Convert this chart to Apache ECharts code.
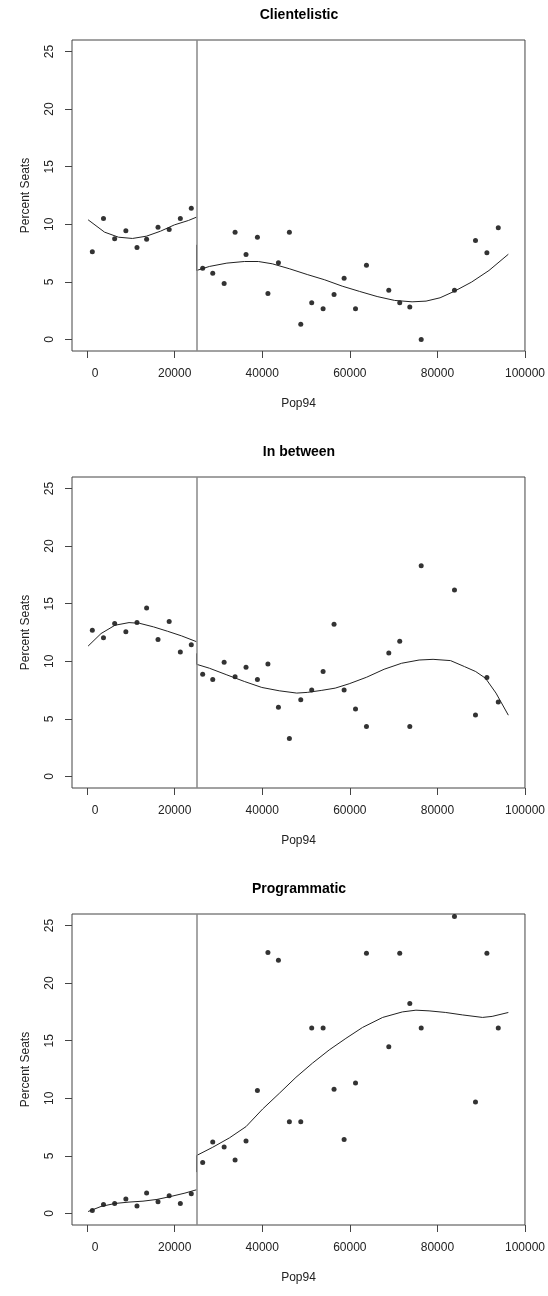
<!DOCTYPE html>
<html>
<head>
<meta charset="utf-8">
<script src="https://cdn.jsdelivr.net/npm/echarts@6/dist/echarts.min.js"></script>
<style>
html,body{margin:0;padding:0;background:#fff;}
#chart{width:548px;height:1296px;}
</style>
</head>
<body>
<div id="chart"></div>
<script>
// ---- data ----
const cutoff = 25000;
const xTicks = [0, 20000, 40000, 60000, 80000, 100000];
const yTicks = [0, 5, 10, 15, 20, 25];
const titles = ['Clientelistic', 'In between', 'Programmatic'];
const xName = 'Pop94';
const yName = 'Percent Seats';

const popLeft = [1200, 3750, 6300, 8860, 11400, 13600, 16200, 18750, 21300, 23800];
const popRight = [26400, 28700, 31300, 33800, 36300, 38900, 41300, 43700, 46200, 48800, 51300, 53900,
  56400, 58700, 61300, 63800, 68900, 71400, 73700, 76300, 83900, 88700, 91300, 93900];

const clientLeft = [7.61, 10.50, 8.74, 9.43, 7.99, 8.71, 9.75, 9.55, 10.50, 11.40];
const clientRight = [6.19, 5.76, 4.86, 9.32, 7.38, 8.88, 3.99, 6.66, 9.32, 1.33, 3.18, 2.66,
  3.91, 5.32, 2.66, 6.45, 4.28, 3.18, 2.81, 0.00, 4.28, 8.59, 7.52, 9.69];
const betweenLeft = [12.70, 12.04, 13.28, 12.56, 13.36, 14.63, 11.90, 13.45, 10.80, 11.44];
const betweenRight = [8.88, 8.42, 9.91, 8.65, 9.48, 8.42, 9.77, 6.01, 3.30, 6.67, 7.50, 9.11,
  13.22, 7.50, 5.86, 4.34, 10.72, 11.75, 4.34, 18.30, 16.18, 5.34, 8.59, 6.47];
const progLeft = [0.26, 0.78, 0.87, 1.25, 0.64, 1.77, 1.01, 1.54, 0.87, 1.71];
const progRight = [4.43, 6.20, 5.77, 4.64, 6.29, 10.67, 22.66, 21.99, 7.97, 7.97, 16.10, 16.10,
  10.78, 6.43, 11.33, 22.60, 14.48, 22.60, 18.24, 16.10, 25.78, 9.68, 22.60, 16.10];

// fitted curves
const clientFitLeftX = [240, 3990, 7180, 10375, 13570, 16760, 19950, 23140, 25000];
const clientFitLeftY = [10.39, 9.32, 8.88, 8.77, 8.97, 9.40, 9.95, 10.33, 10.62];
const clientFitRightX = [25000, 25000, 27930, 31920, 35910, 39110, 42300, 46290, 50280, 54270, 58260,
  62250, 66240, 70230, 74220, 77410, 80610, 83800, 87790, 91780, 96200];
const clientFitRightY = [8.22, 5.99, 6.34, 6.63, 6.77, 6.77, 6.57, 6.13, 5.64, 5.18, 4.63,
  4.17, 3.73, 3.39, 3.27, 3.33, 3.62, 4.17, 4.98, 5.99, 7.40];

const betweenFitLeftX = [240, 3190, 6380, 9580, 11970, 15160, 18360, 21550, 25000];
const betweenFitLeftY = [11.32, 12.41, 13.13, 13.36, 13.30, 12.99, 12.61, 12.21, 11.70];
const betweenFitRightX = [25000, 25000, 27930, 31920, 35910, 39900, 43890, 47880, 50280, 53470, 56660,
  59860, 63850, 67840, 71830, 75820, 79010, 83000, 86190, 88750, 90980, 93380, 96200];
const betweenFitRightY = [10.69, 9.74, 9.40, 8.82, 8.25, 7.73, 7.44, 7.24, 7.30, 7.47, 7.67,
  8.05, 8.62, 9.31, 9.83, 10.11, 10.17, 10.06, 9.54, 9.11, 8.53, 7.24, 5.32];

const progFitLeftX = [240, 3190, 6380, 9580, 12770, 15960, 19150, 22350, 25000];
const progFitLeftY = [0.17, 0.61, 0.87, 0.99, 1.07, 1.22, 1.48, 1.77, 2.06];
const progFitRightX = [25000, 25000, 28700, 32500, 36300, 40100, 43900, 47700, 51500, 55300, 59100,
  62900, 67500, 72000, 75100, 78100, 81900, 85700, 90300, 92500, 96200];
const progFitRightY = [3.59, 5.03, 5.75, 6.56, 7.54, 9.07, 10.43, 11.82, 13.06, 14.20, 15.20,
  16.15, 17.02, 17.50, 17.65, 17.59, 17.45, 17.24, 17.02, 17.11, 17.45];

// ---- build ----
const panels = [
  {left: clientLeft, right: clientRight, fit: [[clientFitLeftX, clientFitLeftY], [clientFitRightX, clientFitRightY]]},
  {left: betweenLeft, right: betweenRight, fit: [[betweenFitLeftX, betweenFitLeftY], [betweenFitRightX, betweenFitRightY]]},
  {left: progLeft, right: progRight, fit: [[progFitLeftX, progFitLeftY], [progFitRightX, progFitRightY]]}
];

const FONT = '"Liberation Sans", Arial, Helvetica, sans-serif';
const gridTops = [40, 477, 914];
const gridH = 311;
const gridL = 72, gridW = 454;
const zip = (a, b) => a.map((v, i) => [v, b[i]]);
const plain = v => String(v);
const xFmt = v => (v === 0 ? '{z|0}' : String(v));

const option = {
  animation: false,
  backgroundColor: '#ffffff',
  title: [], grid: [], xAxis: [], yAxis: [], series: []
};

panels.forEach((p, i) => {
  option.title.push({
    text: titles[i], left: gridL + gridW / 2, top: gridTops[i] - 32, textAlign: 'center', padding: 0,
    textStyle: {fontFamily: FONT, fontSize: 14, fontWeight: 'bold', color: '#000'}
  });
  option.grid.push({
    left: gridL, top: gridTops[i], width: gridW, height: gridH,
    show: true, borderColor: '#444', borderWidth: 1, backgroundColor: 'transparent'
  });
  option.xAxis.push({
    type: 'value', gridIndex: i, min: -3440, max: 100000,
    name: xName, nameLocation: 'middle', nameGap: 47,
    nameTextStyle: {fontFamily: FONT, fontSize: 12, color: '#222'},
    axisLine: {show: false, onZero: false},
    splitLine: {show: false},
    axisTick: {show: true, length: 7, customValues: xTicks, lineStyle: {color: '#444'}},
    axisLabel: {
      customValues: xTicks, formatter: xFmt, margin: 17, fontFamily: FONT, fontSize: 12, color: '#222',
      rich: {z: {fontFamily: FONT, fontSize: 12, color: '#222', padding: [0, 0, 0, 16]}}
    }
  });
  option.yAxis.push({
    type: 'value', gridIndex: i, min: -1, max: 26,
    name: yName, nameLocation: 'middle', nameGap: 40,
    nameTextStyle: {fontFamily: FONT, fontSize: 12, color: '#222'},
    axisLine: {show: false, onZero: false},
    splitLine: {show: false},
    axisTick: {show: true, length: 7, customValues: yTicks, lineStyle: {color: '#444'}},
    axisLabel: {customValues: yTicks, formatter: plain, rotate: 90, margin: 16, fontFamily: FONT, fontSize: 12, color: '#222'}
  });
  p.fit.forEach((f) => {
    option.series.push({
      type: 'line', xAxisIndex: i, yAxisIndex: i, data: zip(f[0], f[1]),
      showSymbol: false, smooth: false, silent: true,
      lineStyle: {color: '#222', width: 1}
    });
  });
  option.series.push({
    type: 'scatter', xAxisIndex: i, yAxisIndex: i,
    data: zip(popLeft, p.left).concat(zip(popRight, p.right)),
    symbolSize: 5, itemStyle: {color: '#000'},
    markLine: {
      silent: true, symbol: 'none', label: {show: false},
      lineStyle: {color: '#888', type: 'solid', width: 1.5},
      data: [{xAxis: cutoff}]
    }
  });
});

const chart = echarts.init(document.getElementById('chart'), null, {renderer: 'canvas'});
chart.setOption(option);
</script>
</body>
</html>
